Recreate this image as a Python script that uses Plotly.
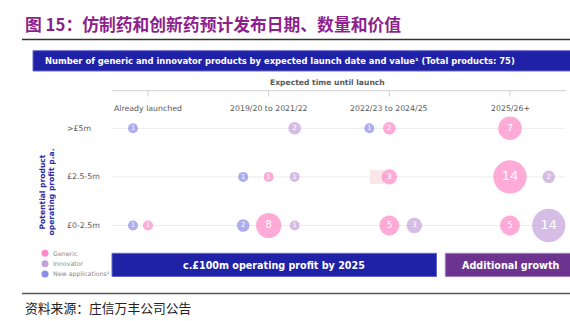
import plotly.graph_objects as go

# ---------------- data ----------------
periods = ["Already launched", "2019/20 to 2021/22", "2022/23 to 2024/25", "2025/26+"]
bands = ["£0-2.5m", "£2.5-5m", ">£5m"]          # bottom -> top
series_names = ["Generic", "Innovator", "New applications¹"]
# counts[band][period]
generic = [[1, 8, 5, 5], [0, 1, 3, 14], [0, 0, 2, 7]]
innovator = [[0, 1, 3, 14], [0, 1, 0, 2], [0, 2, 0, 0]]
new_apps = [[1, 2, 0, 0], [0, 1, 0, 0], [1, 0, 1, 0]]

title_text = "图 15：仿制药和创新药预计发布日期、数量和价值"
header_text = "Number of generic and innovator products by expected launch date and value¹ (Total products: 75)"
axis_title = "Expected time until launch"
ytitle = "Potential product<br>operating profit p.a."
banner1 = "c.£100m operating profit by 2025"
banner2 = "Additional growth"
source_text = "资料来源：庄信万丰公司公告"

# ---------------- layout constants ----------------
W, H = 570, 321
COL0_PX, COL_STEP = 148.0, 120.67
ROW0_PY, ROW_STEP = 225.5, 48.6
MAX_D = 33.3          # px diameter of the largest bubble (14)
MIN_D = 10.0          # px minimum diameter
colors = {"Generic": "#FF88C8", "Innovator": "#C5A1DB", "New applications¹": "#8A8CE8"}
offsets_px = {"Generic": [0, 0, 0, 0],
              "Innovator": [0, 26, 25, 38.7],
              "New applications¹": [-15, -25.5, -20, 0]}
FONT = "DejaVu Sans"
GREY = "#5a5a5a"
DARKBLUE = "#2B2BA6"


def PX(px):
    return px / W


def PY(py):
    return 1 - py / H


fig = go.Figure()

data_map = {"Generic": generic, "Innovator": innovator, "New applications¹": new_apps}
maxv = max(max(max(r) for r in m) for m in data_map.values())
for name in series_names:
    mat = data_map[name]
    xs, ys, ss, ts = [], [], [], []
    for r, row in enumerate(mat):
        for c, n in enumerate(row):
            if n > 0:
                xs.append(c + offsets_px[name][c] / COL_STEP)
                ys.append(r)
                ss.append(n)
                ts.append(str(n))
    fig.add_trace(go.Scatter(
        x=xs, y=ys, mode="markers+text", name=name,
        text=ts, textposition="middle center",
        textfont=dict(color="white", family=FONT, size=[6 + 0.5 * v for v in ss]),
        marker=dict(size=ss, sizemode="area", sizeref=2.0 * maxv / MAX_D ** 2, sizemin=MIN_D / 2,
                    color=colors[name], line=dict(width=0)),
        hoverinfo="skip", showlegend=False, cliponaxis=False,
    ))

shapes = []
annotations = []

# title + rules
annotations.append(dict(text="<b>" + title_text + "</b>", x=PX(23), y=PY(24), xref="paper", yref="paper",
                        xanchor="left", yanchor="middle", showarrow=False,
                        font=dict(family="Noto Sans CJK SC", size=16.8, color="#8E1F8C")))
shapes.append(dict(type="line", xref="paper", yref="paper", x0=PX(22), x1=PX(570), y0=PY(39.5), y1=PY(39.5),
                   line=dict(color="#333333", width=1.3)))

# header banner
shapes.append(dict(type="rect", xref="paper", yref="paper", x0=PX(33), x1=PX(572), y0=PY(50.7), y1=PY(71),
                   fillcolor="#1F22A6", line=dict(color="#6466CF", width=1)))
annotations.append(dict(text="<b>" + header_text + "</b>", x=PX(43), y=PY(61.5), xref="paper", yref="paper",
                        xanchor="left", yanchor="middle", showarrow=False,
                        font=dict(family=FONT, size=8.4, color="white")))

# time axis
annotations.append(dict(text="<b>" + axis_title + "</b>", x=PX(327), y=PY(83), xref="paper", yref="paper",
                        xanchor="center", yanchor="middle", showarrow=False,
                        font=dict(family=FONT, size=7.6, color=GREY)))
shapes.append(dict(type="line", xref="paper", yref="paper", x0=PX(112), x1=PX(566), y0=PY(90.7), y1=PY(90.7),
                   line=dict(color="#cfcfcf", width=1)))
for c, p in enumerate(periods):
    shapes.append(dict(type="line", xref="x", yref="paper", x0=c, x1=c, y0=PY(90.7), y1=PY(96.5),
                       line=dict(color="#cfcfcf", width=1)))
    annotations.append(dict(text=p, x=c, y=PY(108), xref="x", yref="paper", xanchor="center",
                            yanchor="middle", showarrow=False, font=dict(family=FONT, size=7.8, color=GREY)))

# row grid + labels
for r, b in enumerate(bands):
    shapes.append(dict(type="line", xref="paper", yref="y", x0=PX(112), x1=PX(565), y0=r, y1=r,
                       line=dict(color="#ededed", width=1), layer="below"))
    annotations.append(dict(text=b, x=PX(65), y=r, xref="paper", yref="y", xanchor="left",
                            yanchor="middle", showarrow=False, font=dict(family=FONT, size=7.8, color=GREY)))

annotations.append(dict(text="<b>" + ytitle + "</b>", x=PX(47.5), y=PY(192), xref="paper", yref="paper",
                        xanchor="center", yanchor="middle", showarrow=False, textangle=-90,
                        font=dict(family=FONT, size=7.6, color=DARKBLUE)))

# faint search-icon placeholder
shapes.append(dict(type="rect", xref="paper", yref="paper", x0=PX(370), x1=PX(384), y0=PY(170), y1=PY(184),
                   fillcolor="#FCE6E8", line=dict(width=0), layer="below"))

# legend
for i, name in enumerate(series_names):
    py = 253.3 + i * 10.4
    shapes.append(dict(type="circle", xref="paper", yref="paper", x0=PX(41.5), x1=PX(48.5),
                       y0=PY(py + 3.5), y1=PY(py - 3.5), fillcolor=colors[name], line=dict(width=0)))
    annotations.append(dict(text=name, x=PX(50.5), y=PY(py), xref="paper", yref="paper", xanchor="left",
                            yanchor="middle", showarrow=False, font=dict(family=FONT, size=6.3, color="#8a8a8a")))

# bottom banners
shapes.append(dict(type="rect", xref="paper", yref="paper", x0=PX(112), x1=PX(436.5), y0=PY(253.3), y1=PY(276.5),
                   fillcolor="#1F22A6", line=dict(color="#6466CF", width=1)))
annotations.append(dict(text="<b>" + banner1 + "</b>", x=PX(274), y=PY(265), xref="paper", yref="paper",
                        xanchor="center", yanchor="middle", showarrow=False,
                        font=dict(family=FONT, size=9.6, color="white")))
shapes.append(dict(type="rect", xref="paper", yref="paper", x0=PX(445.3), x1=PX(572), y0=PY(253.3), y1=PY(276.5),
                   fillcolor="#6D348F", line=dict(color="#A27FC0", width=1)))
annotations.append(dict(text="<b>" + banner2 + "</b>", x=PX(510), y=PY(265), xref="paper", yref="paper",
                        xanchor="center", yanchor="middle", showarrow=False,
                        font=dict(family=FONT, size=9.6, color="white")))

# bottom rule + source
shapes.append(dict(type="line", xref="paper", yref="paper", x0=PX(22), x1=PX(570), y0=PY(293.5), y1=PY(293.5),
                   line=dict(color="#555555", width=1.4)))
annotations.append(dict(text=source_text, x=PX(23), y=PY(307), xref="paper", yref="paper",
                        xanchor="left", yanchor="middle", showarrow=False,
                        font=dict(family="Noto Sans CJK SC", size=12.8, color="#222222")))

fig.update_layout(
    width=W, height=H, margin=dict(l=0, r=0, t=0, b=0),
    paper_bgcolor="white", plot_bgcolor="white",
    xaxis=dict(range=[-COL0_PX / COL_STEP, (W - COL0_PX) / COL_STEP], visible=False, fixedrange=True),
    yaxis=dict(range=[(ROW0_PY - H) / ROW_STEP, ROW0_PY / ROW_STEP], visible=False, fixedrange=True),
    shapes=shapes, annotations=annotations, showlegend=False,
)

fig.write_html("out.html", config={"displayModeBar": False})
